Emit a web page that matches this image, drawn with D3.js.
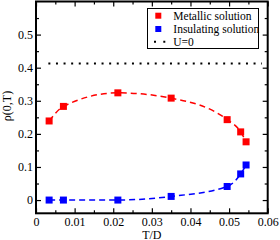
<!DOCTYPE html>
<html><head><meta charset="utf-8">
<script src="https://cdn.jsdelivr.net/npm/d3@7"></script>
<style>
html,body{margin:0;padding:0;background:#fff;}
svg{display:block;}
text{font-family:"Liberation Serif","Times New Roman",serif;fill:#000;}
</style></head>
<body><svg id="c" width="280" height="240"></svg>
<script>
const metT = [0.0034, 0.0071, 0.0212, 0.0350, 0.0495, 0.0530, 0.0544];
const metRho = [0.239, 0.283, 0.324, 0.308, 0.243, 0.206, 0.176];
const insT = [0.0034, 0.0071, 0.0212, 0.0350, 0.0495, 0.0530, 0.0544];
const insRho = [0.0, 0.0, 0.0, 0.011, 0.041, 0.079, 0.106];
const u0Rho = 0.413;
const u0T = [0.0032, 0.0585];
const xTicks = [0, 0.01, 0.02, 0.03, 0.04, 0.05, 0.06];
const xMinor = [0.005, 0.015, 0.025, 0.035, 0.045, 0.055];
const yTicks = [0, 0.1, 0.2, 0.3, 0.4, 0.5];
const yMinor = [0.05, 0.15, 0.25, 0.35, 0.45, 0.55];
const legendLabels = ["Metallic solution", "Insulating solution", "U=0"];

const svg = d3.select("#c");
const L = 36, R = 267.7, T = 1.5, B = 213.3;
const x = d3.scaleLinear().domain([0, 0.06]).range([L, R]);
const y = d3.scaleLinear().domain([-0.04, 0.6]).range([B, T]);
const fmt = d => d === 0 ? "0" : String(+d.toFixed(2));

// U=0 dotted line
svg.append("line")
  .attr("x1", x(u0T[0])).attr("x2", x(u0T[1]))
  .attr("y1", y(u0Rho)).attr("y2", y(u0Rho))
  .attr("stroke", "#000").attr("stroke-width", 2).attr("stroke-dasharray", "2,5.6");

const line = d3.line().x(d => x(d[0])).y(d => y(d[1])).curve(d3.curveMonotoneX);
const met = metT.map((t, i) => [t, metRho[i]]);
const ins = insT.map((t, i) => [t, insRho[i]]);

svg.append("path").attr("d", line(met)).attr("fill", "none")
  .attr("stroke", "#ff0000").attr("stroke-width", 1.5).attr("stroke-dasharray", "6,4");
svg.append("path").attr("d", line(ins)).attr("fill", "none")
  .attr("stroke", "#0000ff").attr("stroke-width", 1.5).attr("stroke-dasharray", "6,4");

const ms = 7;
svg.selectAll("rect.met").data(met).enter().append("rect")
  .attr("x", d => x(d[0]) - ms/2).attr("y", d => y(d[1]) - ms/2)
  .attr("width", ms).attr("height", ms).attr("fill", "#ff0000");
svg.selectAll("rect.ins").data(ins).enter().append("rect")
  .attr("x", d => x(d[0]) - ms/2).attr("y", d => y(d[1]) - ms/2)
  .attr("width", ms).attr("height", ms).attr("fill", "#0000ff");

// axes
function styleAxis(g){ g.select(".domain").remove(); g.selectAll("line").attr("stroke","#000").attr("stroke-width",1.2); g.selectAll("text").attr("font-size",12).attr("font-family","Liberation Serif"); }
svg.append("g").attr("transform", `translate(0,${B})`)
  .call(d3.axisBottom(x).tickValues(xTicks).tickSize(-5).tickPadding(4).tickFormat(fmt)).call(styleAxis);
svg.append("g").attr("transform", `translate(0,${B})`)
  .call(d3.axisBottom(x).tickValues(xMinor).tickSize(-3).tickFormat("")).call(styleAxis);
svg.append("g").attr("transform", `translate(0,${T})`)
  .call(d3.axisTop(x).tickValues(xTicks).tickSize(-5).tickFormat("")).call(styleAxis);
svg.append("g").attr("transform", `translate(0,${T})`)
  .call(d3.axisTop(x).tickValues(xMinor).tickSize(-3).tickFormat("")).call(styleAxis);
svg.append("g").attr("transform", `translate(${L},0)`)
  .call(d3.axisLeft(y).tickValues(yTicks).tickSize(-5).tickPadding(3).tickFormat(fmt)).call(styleAxis);
svg.append("g").attr("transform", `translate(${L},0)`)
  .call(d3.axisLeft(y).tickValues(yMinor).tickSize(-3).tickFormat("")).call(styleAxis);
svg.append("g").attr("transform", `translate(${R},0)`)
  .call(d3.axisRight(y).tickValues(yTicks).tickSize(-5).tickFormat("")).call(styleAxis);
svg.append("g").attr("transform", `translate(${R},0)`)
  .call(d3.axisRight(y).tickValues(yMinor).tickSize(-3).tickFormat("")).call(styleAxis);

svg.append("rect").attr("x", L).attr("y", T).attr("width", R - L).attr("height", B - T)
  .attr("fill", "none").attr("stroke", "#000").attr("stroke-width", 2);

// labels
svg.append("text").attr("x", (L + R) / 2).attr("y", 238.5).attr("text-anchor", "middle")
  .attr("font-size", 12).text("T/D");
svg.append("text").attr("transform", "translate(11,106) rotate(-90)").attr("text-anchor", "middle")
  .attr("font-size", 12).text("ρ(0,T)");

// legend
const lg = svg.append("g");
lg.append("rect").attr("x", 147.5).attr("y", 8.5).attr("width", 111).attr("height", 40)
  .attr("fill", "#fff").attr("stroke", "#000").attr("stroke-width", 1);
const rowsY = [15.7, 29, 41.7];
lg.append("rect").attr("x", 158.3 - 3).attr("y", rowsY[0] - 3).attr("width", 6).attr("height", 6).attr("fill", "#ff0000");
lg.append("rect").attr("x", 158.3 - 3).attr("y", rowsY[1] - 3).attr("width", 6).attr("height", 6).attr("fill", "#0000ff");
lg.append("line").attr("x1", 154).attr("x2", 166).attr("y1", rowsY[2]).attr("y2", rowsY[2])
  .attr("stroke", "#000").attr("stroke-width", 2).attr("stroke-dasharray", "2,7.3");
lg.selectAll("text.lt").data(legendLabels).enter().append("text")
  .attr("x", 173.3).attr("y", (d, i) => rowsY[i] + 4).attr("font-size", 11.5).text(d => d);
</script></body></html>
